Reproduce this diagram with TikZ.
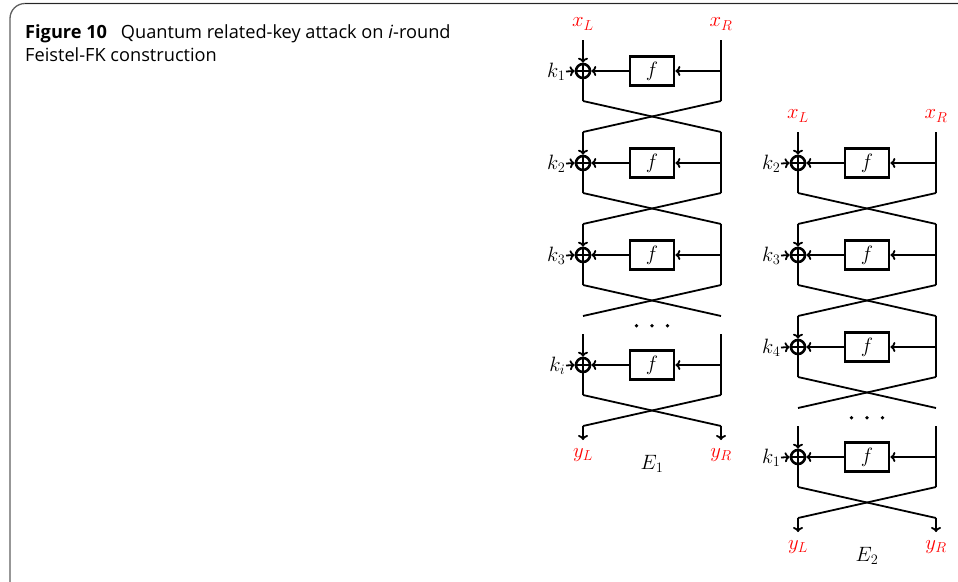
\documentclass[tikz,border=0pt]{standalone}
\usepackage{fontspec}
\newfontfamily\capfont{Open Sans}
\usetikzlibrary{arrows.meta}

\tikzset{
  mathfont/.style={font=\fontsize{20}{22}\selectfont},
  wire/.style={line width=1.8pt},
  feed/.style={wire,-{To[length=5pt,width=10pt]}},
  fbox/.style={draw,line width=2.8pt,minimum width=44pt,minimum height=29pt,
    inner sep=0pt,mathfont},
  xorop/.style={draw,circle,line width=2.6pt,minimum size=14pt,inner sep=0pt},
  klab/.style={anchor=east,inner sep=0.5pt,mathfont},
  iolab/.style={text=red,inner sep=0pt,mathfont},
  cipher/.style={inner sep=0pt,mathfont},
  ddot/.style={fill,circle,minimum size=3.8pt,inner sep=0pt},
}

% One Feistel round: #1 name, #2 left x, #3 right x, #4 y of the xor, #5 key
\newcommand\feistelround[5]{%
  \coordinate (#1tl) at (#2,#4-31);
  \coordinate (#1tr) at (#3,#4-31);
  \coordinate (#1r)  at (#3,#4);
  \coordinate (#1bl) at (#2,#4+30);
  \coordinate (#1br) at (#3,#4+30);
  \coordinate (#1cl) at (#2,#4+61);
  \coordinate (#1cr) at (#3,#4+61);
  \node[xorop] (#1o) at (#2,#4) {};
  \node[fbox] (#1f) at ({(#2+#3)/2},#4) {$f$};
  \node[klab] (#1k) at (#2-17,#4+0.5) {$#5$};
  \draw[feed] (#1tl) -- (#1o.north);
  \draw[wire] (#1o.north) -- (#1o.south) (#1o.west) -- (#1o.east);
  \draw[wire] (#1o.south) -- (#1bl);
  \draw[wire] (#1tr) -- (#1br);
  \draw[feed] (#1r) -- (#1f.east);
  \draw[feed] (#1f.west) -- (#1o.east);
  \draw[feed] (#1k.east) -- (#1o.west);
  \draw[wire] (#1bl) -- (#1cr);
  \draw[wire] (#1br) -- (#1cl);
}

\begin{document}
\begin{tikzpicture}[x=1pt,y=-1pt]
\useasboundingbox (0,0) rectangle (958,581);

% panel frame
\draw[gray!75!black,line width=1.3pt,rounded corners=15pt]
  (10,610) -- (10,3.5) -- (980,3.5);
\draw[black!85,line width=1.6pt] (25,3.5) -- (980,3.5);

% caption (base anchor sits on the last line)
\node[anchor=base west,align=left,inner sep=0pt,
  font=\capfont\fontsize{18.2}{23.4}\selectfont] (cap) at (25,61.7)
  {\textbf{Figure 10}\hspace{0.5em} Quantum related-key attack on \textit{i}-round\\
   Feistel-FK construction};

% E1
\feistelround{a1}{583}{721}{71}{k_1}
\feistelround{a2}{583}{721}{163}{k_2}
\feistelround{a3}{583}{721}{255}{k_3}
\feistelround{a4}{583}{721}{365}{k_i}
\node[iolab] (axl) at (583,24) {$x_L$};
\node[iolab] (axr) at (721,24) {$x_R$};
\node[ddot] (ad1) at (636.5,325.7) {};
\node[ddot] (ad2) at (652,325.7) {};
\node[ddot] (ad3) at (667.5,325.7) {};
\coordinate (ayl0) at (583,440);
\coordinate (ayr0) at (721,440);
\draw[feed] (a4cl) -- (ayl0);
\draw[feed] (a4cr) -- (ayr0);
\node[iolab] (ayl) at (583,455) {$y_L$};
\node[iolab] (ayr) at (721,455) {$y_R$};
\node[cipher] (ae) at (652,463.5) {$E_1$};

% E2
\feistelround{b1}{798}{936}{163}{k_2}
\feistelround{b2}{798}{936}{255}{k_3}
\feistelround{b3}{798}{936}{347}{k_4}
\feistelround{b4}{798}{936}{457}{k_1}
\node[iolab] (bxl) at (798,116) {$x_L$};
\node[iolab] (bxr) at (936,116) {$x_R$};
\node[ddot] (bd1) at (851.5,417.7) {};
\node[ddot] (bd2) at (867,417.7) {};
\node[ddot] (bd3) at (882.5,417.7) {};
\coordinate (byl0) at (798,532);
\coordinate (byr0) at (936,532);
\draw[feed] (b4cl) -- (byl0);
\draw[feed] (b4cr) -- (byr0);
\node[iolab] (byl) at (798,547) {$y_L$};
\node[iolab] (byr) at (936,547) {$y_R$};
\node[cipher] (be) at (867,555.5) {$E_2$};
\end{tikzpicture}
\end{document}
